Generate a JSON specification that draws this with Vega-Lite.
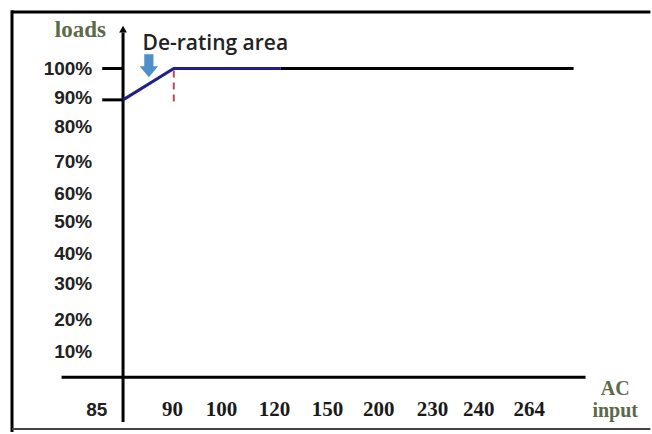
{
  "$schema": "https://vega.github.io/schema/vega-lite/v6.json",
  "width": 652,
  "height": 434,
  "padding": 0,
  "autosize": {"type": "fit", "contains": "padding"},
  "background": "white",
  "config": {"view": {"stroke": null}},
  "datasets": {
    "frame": [
      {"x": -2.19, "x2": 10.4, "y": 118.06, "y2": 118.06},
      {"x": -2.19, "x2": -2.19, "y": 118.6, "y2": -16}
    ],
    "bottom": [
      {"x": -2.19, "x2": 10.4, "y": -15.0, "y2": -15.0}
    ],
    "axes": [
      {"x": 0, "x2": 0, "y": 111.5, "y2": -12.8},
      {"x": -1.213, "x2": 9.12, "y": 1.46, "y2": 1.46},
      {"x": -0.411, "x2": 0, "y": 100, "y2": 100},
      {"x": -0.411, "x2": 0, "y": 90, "y2": 90},
      {"x": 3.112, "x2": 8.885, "y": 100, "y2": 100}
    ],
    "arrowhead": [{"x": 0, "y": 112.6}],
    "curve": [
      {"x": 0, "y": 90},
      {"x": 1, "y": 100},
      {"x": 3.112, "y": 100}
    ],
    "derate": [{"x": 1, "x2": 1, "y": 99.4, "y2": 89.4}],
    "marker": [{"x": 0.509, "y": 100.9}],
    "ylabels": [
      {"label": "100%", "x": -0.607, "y": 100.0},
      {"label": "90%", "x": -0.607, "y": 90.5},
      {"label": "80%", "x": -0.607, "y": 81.3},
      {"label": "70%", "x": -0.607, "y": 70.2},
      {"label": "60%", "x": -0.607, "y": 60.1},
      {"label": "50%", "x": -0.607, "y": 50.9},
      {"label": "40%", "x": -0.607, "y": 40.8},
      {"label": "30%", "x": -0.607, "y": 31.2},
      {"label": "20%", "x": -0.607, "y": 19.8},
      {"label": "10%", "x": -0.607, "y": 9.7}
    ],
    "first": [{"label": "85", "x": -0.519, "y": -9.0}],
    "xlabels": [
      {"label": "90", "x": 0.973, "y": -9.0},
      {"label": "100", "x": 1.943, "y": -9.0},
      {"label": "120", "x": 2.988, "y": -9.0},
      {"label": "150", "x": 4.031, "y": -9.0},
      {"label": "200", "x": 5.043, "y": -9.0},
      {"label": "230", "x": 6.102, "y": -9.0},
      {"label": "240", "x": 7.016, "y": -9.0},
      {"label": "264", "x": 8.010, "y": -9.0}
    ],
    "axistitle": [
      {"label": "AC", "x": 9.706, "y": -2.2},
      {"label": "input", "x": 9.706, "y": -9.3}
    ],
    "ytitle": [{"label": "loads", "x": -0.841, "y": 112.4}],
    "note": [{"label": "De-rating area", "x": 1.82, "y": 106.0}]
  },
  "encoding": {
    "x": {"field": "x", "type": "quantitative", "axis": null, "scale": {"domain": [-2.4266, 10.3327], "nice": false, "zero": false}},
    "y": {"field": "y", "type": "quantitative", "axis": null, "scale": {"domain": [-15.65, 121.86], "nice": false, "zero": false}}
  },
  "layer": [
    {
      "data": {"name": "frame"},
      "mark": {"type": "rule", "color": "#000000", "strokeWidth": 3},
      "encoding": {"x2": {"field": "x2"}, "y2": {"field": "y2"}}
    },
    {
      "data": {"name": "bottom"},
      "mark": {"type": "rule", "color": "#444444", "strokeWidth": 2},
      "encoding": {"x2": {"field": "x2"}, "y2": {"field": "y2"}}
    },
    {
      "data": {"name": "axes"},
      "mark": {"type": "rule", "color": "#000000", "strokeWidth": 3},
      "encoding": {"x2": {"field": "x2"}, "y2": {"field": "y2"}}
    },
    {
      "data": {"name": "arrowhead"},
      "mark": {"type": "point", "shape": "triangle-up", "filled": true, "color": "#000000", "size": 60, "opacity": 1}
    },
    {
      "data": {"name": "derate"},
      "mark": {"type": "rule", "color": "#b8485a", "strokeWidth": 2, "strokeDash": [7, 5]},
      "encoding": {"x2": {"field": "x2"}, "y2": {"field": "y2"}}
    },
    {
      "data": {"name": "curve"},
      "mark": {"type": "line", "color": "#20208c", "strokeWidth": 3}
    },
    {
      "data": {"name": "marker"},
      "mark": {"type": "point", "shape": "M -0.4 -1 L 0.4 -1 L 0.4 0.05 L 0.8 0.05 L 0 1 L -0.8 0.05 L -0.4 0.05 Z", "filled": true, "color": "#4f8fcc", "size": 529, "opacity": 1}
    },
    {
      "data": {"name": "ylabels"},
      "mark": {"type": "text", "align": "right", "baseline": "middle", "font": "Liberation Sans", "fontWeight": "bold", "fontSize": 19, "color": "#222222"},
      "encoding": {"text": {"field": "label"}}
    },
    {
      "data": {"name": "first"},
      "mark": {"type": "text", "align": "center", "baseline": "middle", "font": "Liberation Sans", "fontWeight": "bold", "fontSize": 19, "color": "#222222"},
      "encoding": {"text": {"field": "label"}}
    },
    {
      "data": {"name": "xlabels"},
      "mark": {"type": "text", "align": "center", "baseline": "middle", "font": "Liberation Serif", "fontWeight": "bold", "fontSize": 21, "color": "#1a1a1a"},
      "encoding": {"text": {"field": "label"}}
    },
    {
      "data": {"name": "axistitle"},
      "mark": {"type": "text", "align": "center", "baseline": "middle", "font": "Liberation Serif", "fontWeight": "bold", "fontSize": 20, "color": "#5b6a48"},
      "encoding": {"text": {"field": "label"}}
    },
    {
      "data": {"name": "ytitle"},
      "mark": {"type": "text", "align": "center", "baseline": "middle", "font": "Liberation Serif", "fontWeight": "bold", "fontSize": 23, "color": "#5b6a48"},
      "encoding": {"text": {"field": "label"}}
    },
    {
      "data": {"name": "note"},
      "mark": {"type": "text", "align": "center", "baseline": "alphabetic", "font": "Open Sans", "fontWeight": 600, "fontSize": 21, "color": "#222222"},
      "encoding": {"text": {"field": "label"}}
    }
  ]
}
